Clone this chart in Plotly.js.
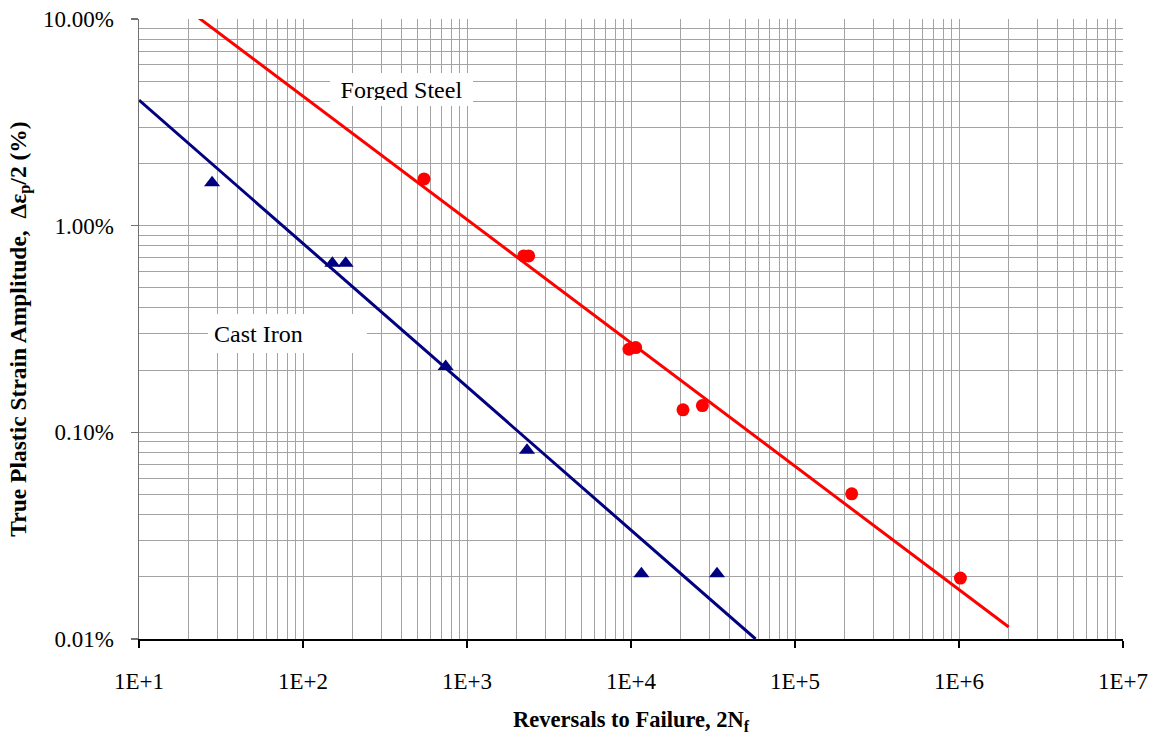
<!DOCTYPE html>
<html>
<head>
<meta charset="utf-8">
<script src="https://cdn.plot.ly/plotly-3.0.1.min.js"></script>
<style>
  html, body { margin: 0; padding: 0; background: #ffffff; }
  #chart { width: 1165px; height: 738px; }
</style>
</head>
<body>
<div id="chart"></div>
<script>
// Strain-life data: reversals to failure vs. plastic strain amplitude (fraction)
const steelReversals = [547, 2217, 2377, 9723, 10684, 20750, 27250, 221700, 1020000];
const steelStrain    = [0.01684, 0.00714, 0.00714, 0.002527, 0.002572, 0.001285, 0.001348, 0.000504, 0.0001972];

const ironReversals = [27.9, 151, 182, 741, 2322, 11570, 33450];
const ironStrain    = [0.01615, 0.00658, 0.00658, 0.002082, 0.000820, 0.000207, 0.000207];

// Power-law fit lines (end points)
const steelFitReversals = [20, 2010000];
const steelFitStrain    = [0.1105, 0.0001143];
const ironFitReversals  = [10, 57500];
const ironFitStrain     = [0.0405, 0.0001];

// Axis ticks
const xTickVals = [1e1, 1e2, 1e3, 1e4, 1e5, 1e6, 1e7];
const xTickText = ['1E+1', '1E+2', '1E+3', '1E+4', '1E+5', '1E+6', '1E+7'];
const yTickVals = [0.0001, 0.001, 0.01, 0.1];
const yTickText = ['0.01%', '0.10%', '1.00%', '10.00%'];

const STEEL = '#ff0000';
const IRON = '#000080';
const SERIF = '"Liberation Serif", "Times New Roman", Times, serif';
const GRID = '#a3a3a3';

const traces = [
  {
    x: steelFitReversals, y: steelFitStrain, mode: 'lines', name: 'Forged Steel fit',
    line: { color: STEEL, width: 3 }, hoverinfo: 'skip'
  },
  {
    x: ironFitReversals, y: ironFitStrain, mode: 'lines', name: 'Cast Iron fit',
    line: { color: IRON, width: 3 }, hoverinfo: 'skip'
  },
  {
    x: steelReversals, y: steelStrain, mode: 'markers', name: 'Forged Steel',
    marker: { symbol: 'circle', size: 13, color: STEEL }
  },
  {
    x: ironReversals, y: ironStrain, mode: 'markers', name: 'Cast Iron',
    marker: { symbol: 'triangle-up', size: 14, color: IRON }
  }
];

const layout = {
  width: 1165,
  height: 738,
  margin: { l: 139, r: 42, t: 19, b: 99 },
  paper_bgcolor: '#ffffff',
  plot_bgcolor: '#ffffff',
  showlegend: false,
  font: { family: SERIF, color: '#000000', size: 23 },
  xaxis: {
    type: 'log',
    range: [1, 7],
    tickmode: 'array',
    tickvals: xTickVals,
    ticktext: xTickText,
    ticks: 'outside',
    ticklen: 7,
    tickwidth: 1.5,
    tickcolor: '#000000',
    ticklabelstandoff: 14,
    tickfont: { family: SERIF, size: 23, color: '#000000' },
    showline: true,
    linecolor: '#000000',
    linewidth: 1.5,
    showgrid: true,
    gridcolor: GRID,
    gridwidth: 1,
    minor: { dtick: 'D1', showgrid: true, gridcolor: GRID, gridwidth: 1, ticks: '' },
    zeroline: false,
    title: {
      text: 'Reversals to Failure, 2N<sub>f</sub>',
      font: { family: SERIF, size: 22.5, color: '#000000', weight: 'bold' },
      standoff: 18
    },
    automargin: false
  },
  yaxis: {
    type: 'log',
    range: [-4, -1],
    tickmode: 'array',
    tickvals: yTickVals,
    ticktext: yTickText,
    ticks: 'outside',
    ticklen: 7,
    tickwidth: 1.5,
    tickcolor: '#707070',
    ticklabelstandoff: 12,
    tickfont: { family: SERIF, size: 23, color: '#000000' },
    showline: true,
    linecolor: '#707070',
    linewidth: 1.5,
    showgrid: true,
    gridcolor: GRID,
    gridwidth: 1,
    minor: { dtick: 'D1', showgrid: true, gridcolor: GRID, gridwidth: 1, ticks: '' },
    zeroline: false,
    title: {
      text: 'True Plastic Strain Amplitude,&nbsp; Δε<sub>p</sub>/2 (%)',
      font: { family: SERIF, size: 23.5, color: '#000000', weight: 'bold' },
      standoff: 10
    },
    automargin: false
  },
  annotations: [
    // series labels on white boxes over the grid
    {
      text: 'Forged Steel', xref: 'paper', yref: 'paper',
      x: 0.2668, y: 0.8863, xanchor: 'center', yanchor: 'middle', showarrow: false,
      width: 131, height: 21, align: 'center', valign: 'middle',
      bgcolor: '#ffffff', borderpad: 6, borderwidth: 0,
      font: { family: SERIF, size: 24, color: '#000000' }
    },
    {
      text: 'Cast Iron', xref: 'paper', yref: 'paper',
      x: 0.1509, y: 0.4927, xanchor: 'center', yanchor: 'middle', showarrow: false,
      width: 147, height: 27, align: 'left', valign: 'middle',
      bgcolor: '#ffffff', borderpad: 6, borderwidth: 0,
      font: { family: SERIF, size: 24, color: '#000000' }
    }
  ]
};

Plotly.newPlot('chart', traces, layout, { displayModeBar: false, staticPlot: true });
</script>
</body>
</html>
